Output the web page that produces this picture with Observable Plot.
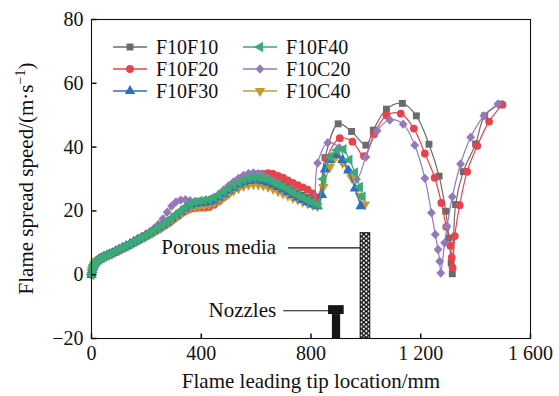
<!DOCTYPE html>
<html><head><meta charset="utf-8">
<script src="https://cdn.jsdelivr.net/npm/d3@7"></script>
<script src="https://cdn.jsdelivr.net/npm/@observablehq/plot@0.6"></script>
<style>body{margin:0;background:#fff}</style>
</head><body><div id="chart"></div>
<script>
// ---------- data ----------
const seriesNames = ["F10F10", "F10F20", "F10F30", "F10F40", "F10C20", "F10C40"];
const seriesColors = ["#6b6b6d", "#e8434b", "#2f6ec0", "#3caa76", "#9579b9", "#c59a30"];

const xHead = [0,3,6,10,15,20,28,36,45,55,65,76,88,100,113,126,140,154,168,183,198,213,228,244,260,276,292,308,325,342,359,376,393,410,428,446,464,482,500,518,536,554,572,590,608,626,644,662,680,698,716,734,752,770,788,806,824];

const F10F10_head = [0.2,1.8,2.6,3.3,3.9,4.3,4.8,5.2,5.6,6, 6.4,6.8,7.3,7.8,8.3,8.9,9.5,10.2,10.9,11.6, 12.3,13,13.7,14.5,15.3,16.2,17.2,18.4,19.6,20.7, 21.6,22.1,22.3,22.4,22.6,23.2,24.3,25.7,27.1,28.5, 29.6,30.5,31.1,31.5,31.6,31.3,30.7,30,29.2,28.3, 27.4,26.5,25.7,24.9,24.2,23.5,23];
const F10F10_tailX = [851,899,948,1000,1027,1075,1133,1184,1230,1267,1291,1303,1311,1315,1327,1355,1400,1433,1490];
const F10F10_tailY = [36.7,47.3,44.9,40.6,45.3,51.9,53.7,49.8,40.9,30.9,19.9,11.5,3.7,0.3,22,32.3,41,49.8,53.5];

const F10F20_head = [0,1.2,2.1,2.9,3.6,4.1,4.6,5,5.4,5.8, 6.2,6.6,7.1,7.6,8.1,8.7,9.3,9.9,10.6,11.3, 12,12.7,13.4,14.2,15,15.9,16.9,18,19.1,20, 20.6,20.9,21,21,21.2,21.9,23,24.3,25.6,26.9, 28.1,29.1,29.9,30.6,31.2,31.6,31.8,31.6,31,30.4, 29.6,28.8,28.1,27.4,26.7,25.5,24.3];
const F10F20_tailX = [857,905,951,993,1030,1075,1127,1175,1215,1251,1275,1293,1308,1313,1316,1324,1342,1369,1406,1449,1498];
const F10F20_tailY = [36.5,42.8,41.7,37.2,44,50,50.5,45.8,38,30.4,22.5,15,9.1,5.4,2.2,12.1,21.8,32.3,40.4,48,53.3];

const F10F30_head = [0,1.4,2.3,3.1,3.8,4.2,4.8,5.2,5.6,6, 6.4,6.8,7.4,7.9,8.4,9,9.6,10.3,10.9,11.6, 12.3,13,13.8,14.6,15.5,16.4,17.5,18.6,19.7,20.8, 21.7,22.2,22.4,22.5,22.8,23.3,24.2,25.2,26.3,27.3, 28.2,28.9,29.4,29.6,29.6,29.3,28.8,28.2,27.5,26.7, 25.9,25,24.2,23.4,22.7,22,21.5];
const F10F30_tailX = [840,851,870,893,915,936,960,981];
const F10F30_tailY = [25,33,36,37.5,36,32.7,27,21.5];

const F10F40_head = [0,1.5,2.4,3.2,3.9,4.3,4.9,5.3,5.7,6.1, 6.5,6.9,7.5,8,8.5,9.1,9.7,10.4,11,11.7, 12.4,13.1,13.9,14.8,15.7,16.6,17.7,18.9,20,21.2, 22.2,22.8,23.1,23.3,23.6,24.1,25,26,27,28, 28.9,29.7,30.2,30.5,30.5,30.2,29.7,29,28.3,27.5, 26.7,25.8,24.9,24.1,23.3,22.6,22];
const F10F40_tailX = [845,869,895,918,940,960,978,988];
const F10F40_tailY = [30,37,39,39.3,36,32,27.5,24.5];

const F10C20_head = [0.3,2,2.8,3.5,4.1,4.5,5,5.4,5.8,6.2, 6.6,7,7.5,8,8.6,9.2,9.8,10.5,11.2,11.9, 12.7,13.5,14.5,15.8,17.5,19.6,21.5,22.8,23.4,23.5, 23.2,22.9,22.7,22.8,23.3,24.2,25.3,26.6,27.9,29.1, 30.2,31.1,31.7,31.9,31.7,31.1,30.3,29.4,28.5,27.5, 26.5,25.4,24.3,23.3,22.4,22,35];
const F10C20_tailX = [861,903,936,966,1000,1041,1087,1136,1178,1215,1239,1253,1263,1269,1273,1287,1296,1315,1345,1382,1430,1481];
const F10C20_tailY = [41.4,39.8,32.7,29.9,36.9,45.1,48.5,47.2,40.6,30.2,19.4,12.6,7.9,4.2,0.5,10,15.2,24.4,34.7,43.1,49.8,53.5];

const F10C40_head = [0,1.4,2.3,3.1,3.8,4.2,4.7,5.1,5.5,5.9, 6.3,6.7,7.2,7.7,8.2,8.8,9.4,10,10.7,11.4, 12.1,12.8,13.6,14.4,15.2,16.1,17,18,19,20, 20.8,21.3,21.5,21.6,21.9,22.5,23.3,24.3,25.3,26.3, 27.1,27.8,28.2,28.4,28.3,28,27.5,26.9,26.2,25.5, 24.8,24.1,23.5,22.9,22.4,21.9,21.5];
const F10C40_tailX = [845,869,890,915,948,978,996];
const F10C40_tailY = [27.5,33.8,37,35,30.4,24.7,22];

const xTicks = [0, 400, 800, 1200, 1600];
const xTickLabels = ["0", "400", "800", "1 200", "1 600"];
const yTicks = [-20, 0, 20, 40, 60, 80];
const yTickLabels = ["\u221220", "0", "20", "40", "60", "80"];

const xTitle = "Flame leading tip location/mm";
const yTitle = ["Flame spread speed/(m\u00b7s", "\u22121", ")"];

// annotations (porous media block, nozzle, leaders, labels)
const porousMedia = [{x1: 981, x2: 1016, y1: -20, y2: 13}];
const nozzleParts = [{x1: 864, x2: 921, y1: -12.5, y2: -9.7}, {x1: 878, x2: 908, y1: -20, y2: -12.5}];
const leaders = [{x1: 716, x2: 981, y1: 8.4, y2: 8.4}, {x1: 699, x2: 864, y1: -11.3, y2: -11.3}];
const labels = [{x: 673, y: 8.6, text: "Porous media"}, {x: 673, y: -11.2, text: "Nozzles"}];

// ---------- symbols ----------
const sqrt3 = Math.sqrt(3);
const triDown = {draw(c, size) {const y = -Math.sqrt(size / (sqrt3 * 3)); c.moveTo(0, -y * 2); c.lineTo(-sqrt3 * y, y); c.lineTo(sqrt3 * y, y); c.closePath();}};
const triLeft = {draw(c, size) {const y = -Math.sqrt(size / (sqrt3 * 3)); c.moveTo(y * 2, 0); c.lineTo(-y, -sqrt3 * y); c.lineTo(-y, sqrt3 * y); c.closePath();}};
const diamond = {draw(c, size) {const r = Math.sqrt(size) * 0.64; c.moveTo(0, -r * 1.05); c.lineTo(r, 0); c.lineTo(0, r * 1.05); c.lineTo(-r, 0); c.closePath();}};
const tickUp = {draw(c) {c.moveTo(0, 0); c.lineTo(0, -5);}};
const tickRight = {draw(c) {c.moveTo(0, 0); c.lineTo(5, 0);}};

const symbols = {F10F10: d3.symbolSquare, F10F20: d3.symbolCircle, F10F30: d3.symbolTriangle, F10F40: triLeft, F10C20: diamond, F10C40: triDown};
const R = 3.9;

const raw = {
  F10F10: [F10F10_head, F10F10_tailX, F10F10_tailY],
  F10F20: [F10F20_head, F10F20_tailX, F10F20_tailY],
  F10F30: [F10F30_head, F10F30_tailX, F10F30_tailY],
  F10F40: [F10F40_head, F10F40_tailX, F10F40_tailY],
  F10C20: [F10C20_head, F10C20_tailX, F10C20_tailY],
  F10C40: [F10C40_head, F10C40_tailX, F10C40_tailY]
};
function rows(name) {
  const [h, tx, ty] = raw[name];
  return xHead.map((x, i) => ({x, y: h[i]})).concat(tx.map((x, i) => ({x, y: ty[i]})));
}
const colorOf = Object.fromEntries(seriesNames.map((n, i) => [n, seriesColors[i]]));
const drawOrder = ["F10F10", "F10F20", "F10C20", "F10C40", "F10F30", "F10F40"];

const seriesMarks = drawOrder.flatMap(name => {
  const d = rows(name);
  return [
    Plot.line(d, {x: "x", y: "y", stroke: colorOf[name], strokeWidth: 1.2, curve: "catmull-rom"}),
    Plot.dot(d, {x: "x", y: "y", fill: colorOf[name], stroke: "none", symbol: symbols[name], r: R})
  ];
});

const chart = Plot.plot({
  width: 559, height: 396,
  marginLeft: 91, marginRight: 29, marginTop: 19, marginBottom: 58,
  style: {fontFamily: "'Liberation Serif','Times New Roman',serif", fontSize: "20px", background: "#fff", color: "#111", overflow: "visible"},
  x: {domain: [0, 1600], label: null},
  y: {domain: [-20, 80], label: null},
  marks: [
    Plot.rect(porousMedia, {x1: "x1", x2: "x2", y1: "y1", y2: "y2", fill: "url(#porousPat)", stroke: "#111", strokeWidth: 1}),
    Plot.rect(nozzleParts, {x1: "x1", x2: "x2", y1: "y1", y2: "y2", fill: "#151515"}),
    Plot.link(leaders, {x1: "x1", x2: "x2", y1: "y1", y2: "y2", stroke: "#111", strokeWidth: 1.1}),
    Plot.text(labels, {x: "x", y: "y", text: "text", textAnchor: "end", fontSize: 21, fill: "#111"}),
    ...seriesMarks,
    Plot.frame({stroke: "#111", strokeWidth: 1.1}),
    Plot.dot(xTicks, {x: d => d, frameAnchor: "bottom", symbol: tickUp, stroke: "#111", fill: "none", r: 1}),
    Plot.dot(yTicks, {y: d => d, frameAnchor: "left", symbol: tickRight, stroke: "#111", fill: "none", r: 1}),
    Plot.axisX({ticks: xTicks, tickSize: 0, tickPadding: 7, tickFormat: d => xTickLabels[xTicks.indexOf(d)], label: null, fontSize: 20}),
    Plot.axisY({ticks: yTicks, tickSize: 0, tickPadding: 8, tickFormat: d => yTickLabels[yTicks.indexOf(d)], label: null, fontSize: 20}),
    Plot.text([xTitle], {frameAnchor: "bottom", lineAnchor: "middle", dy: 43, text: d => d, fontSize: 21, fill: "#111"})
  ]
});
document.getElementById("chart").appendChild(chart);

const svg = d3.select(chart);
// pattern for porous media
const defs = svg.insert("defs", ":first-child");
const pat = defs.append("pattern").attr("id", "porousPat").attr("patternUnits", "userSpaceOnUse")
  .attr("width", 5).attr("height", 4.4);
pat.append("rect").attr("width", 5).attr("height", 4.4).attr("fill", "#161616");
pat.append("ellipse").attr("cx", 1.25).attr("cy", 1.1).attr("rx", 1.15).attr("ry", 1.0).attr("fill", "#fff");
pat.append("ellipse").attr("cx", 3.75).attr("cy", 3.3).attr("rx", 1.15).attr("ry", 1.0).attr("fill", "#fff");

// y axis title with superscript
const yt = svg.append("text")
  .attr("transform", "translate(33,178.5) rotate(-90)")
  .attr("text-anchor", "middle")
  .attr("font-size", 21).attr("fill", "#111")
  .attr("font-family", "'Liberation Serif','Times New Roman',serif");
yt.append("tspan").text(yTitle[0]);
yt.append("tspan").attr("dy", -8).attr("font-size", 14).text(yTitle[1]);
yt.append("tspan").attr("dy", 8).text(yTitle[2]);

// legend
const legCols = [113, 243], legRows = [47, 69, 91];
const legend = svg.append("g").attr("font-family", "'Liberation Serif','Times New Roman',serif").attr("font-size", 20).attr("fill", "#111").attr("text-anchor", "start");
seriesNames.forEach((name, i) => {
  const cx = legCols[Math.floor(i / 3)], cy = legRows[i % 3];
  const g = legend.append("g").attr("transform", `translate(${cx},${cy})`);
  g.append("line").attr("x1", 0).attr("x2", 34).attr("y1", 0).attr("y2", 0).attr("stroke", colorOf[name]).attr("stroke-width", 1.3);
  g.append("path").attr("transform", "translate(17,0)").attr("d", d3.symbol(symbols[name], Math.PI * R * R)()).attr("fill", colorOf[name]);
  g.append("text").attr("x", 43).attr("y", 7).attr("text-anchor", "start").text(name);
});
</script></body></html>
